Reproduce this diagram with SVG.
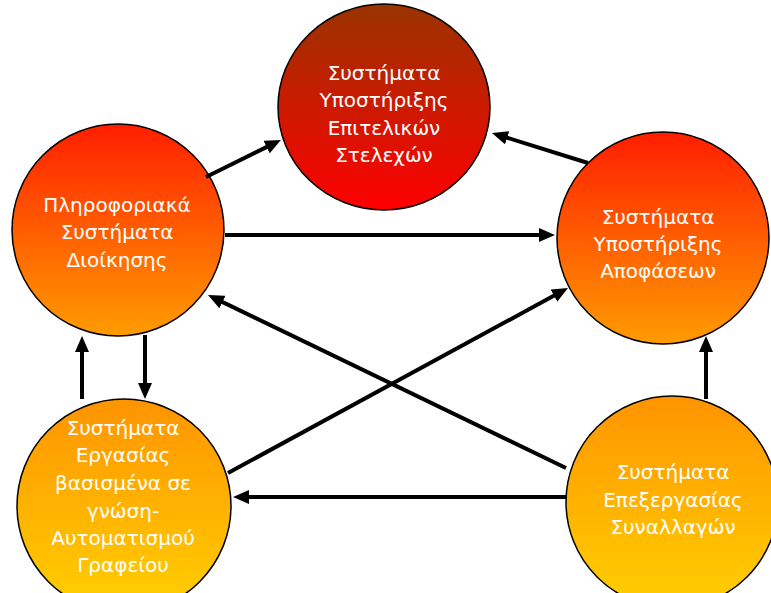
<svg xmlns="http://www.w3.org/2000/svg" width="771" height="593" viewBox="0 0 771 593">
  <defs>
    <linearGradient id="gTop" x1="0" y1="0" x2="0" y2="1">
      <stop offset="0" stop-color="#993300"/>
      <stop offset="1" stop-color="#ff0000"/>
    </linearGradient>
    <linearGradient id="gMid" x1="0" y1="0" x2="0" y2="1">
      <stop offset="0" stop-color="#ff1e00"/>
      <stop offset="1" stop-color="#ff9c00"/>
    </linearGradient>
    <linearGradient id="gBot" x1="0" y1="0" x2="0" y2="1">
      <stop offset="0" stop-color="#ff9400"/>
      <stop offset="1" stop-color="#ffd000"/>
    </linearGradient>
    <marker id="arr" viewBox="0 0 16 14" refX="6" refY="7" markerWidth="16" markerHeight="14" markerUnits="userSpaceOnUse" orient="auto">
      <path d="M0,0 L16,7 L0,14 z" fill="#000"/>
    </marker>
  </defs>
  <style>
    .node { stroke: #000; stroke-width: 1.5; }
    .lbl { font-family: "DejaVu Sans", "Noto Sans", sans-serif; font-size: 20px; fill: #fff; text-anchor: middle; }
    .conn line { stroke: #000; stroke-width: 4; marker-end: url(#arr); }
  </style>
  <rect width="771" height="593" fill="#fff"/>

  <g id="ess">
    <ellipse class="node" cx="384" cy="107" rx="106" ry="103" fill="url(#gTop)"/>
    <text class="lbl" x="384" y="80">Συστήματα</text>
    <text class="lbl" x="384" y="107">Υποστήριξης</text>
    <text class="lbl" x="384" y="135">Επιτελικών</text>
    <text class="lbl" x="384" y="162">Στελεχών</text>
  </g>

  <g id="mis">
    <circle class="node" cx="118" cy="230" r="106" fill="url(#gMid)"/>
    <text class="lbl" x="117" y="212">Πληροφοριακά</text>
    <text class="lbl" x="117" y="239">Συστήματα</text>
    <text class="lbl" x="117" y="267">Διοίκησης</text>
  </g>

  <g id="dss">
    <circle class="node" cx="663" cy="238" r="106" fill="url(#gMid)"/>
    <text class="lbl" x="658" y="224">Συστήματα</text>
    <text class="lbl" x="658" y="251">Υποστήριξης</text>
    <text class="lbl" x="658" y="278">Αποφάσεων</text>
  </g>

  <g id="kws">
    <circle class="node" cx="124" cy="506" r="107" fill="url(#gBot)"/>
    <text class="lbl" x="123" y="435">Συστήματα</text>
    <text class="lbl" x="123" y="462">Εργασίας</text>
    <text class="lbl" x="123" y="490">βασισμένα σε</text>
    <text class="lbl" x="123" y="518">γνώση-</text>
    <text class="lbl" x="123" y="545">Αυτοματισμού</text>
    <text class="lbl" x="123" y="572">Γραφείου</text>
  </g>

  <g id="tps">
    <circle class="node" cx="672" cy="502" r="106" fill="url(#gBot)"/>
    <text class="lbl" x="673" y="479">Συστήματα</text>
    <text class="lbl" x="673" y="507">Επεξεργασίας</text>
    <text class="lbl" x="673" y="534">Συναλλαγών</text>
  </g>

  <g id="connectors" class="conn">
    <line x1="206" y1="177" x2="272" y2="144.4"/>
    <line x1="588" y1="163" x2="501.5" y2="136"/>
    <line x1="225" y1="235" x2="545" y2="235"/>
    <line x1="566" y1="468" x2="217" y2="299.4"/>
    <line x1="228" y1="473" x2="559.2" y2="292.8"/>
    <line x1="566" y1="497" x2="243" y2="497"/>
    <line x1="82" y1="399" x2="82" y2="346"/>
    <line x1="145" y1="335" x2="145" y2="389"/>
    <line x1="706" y1="399" x2="706" y2="346"/>
  </g>
</svg>
